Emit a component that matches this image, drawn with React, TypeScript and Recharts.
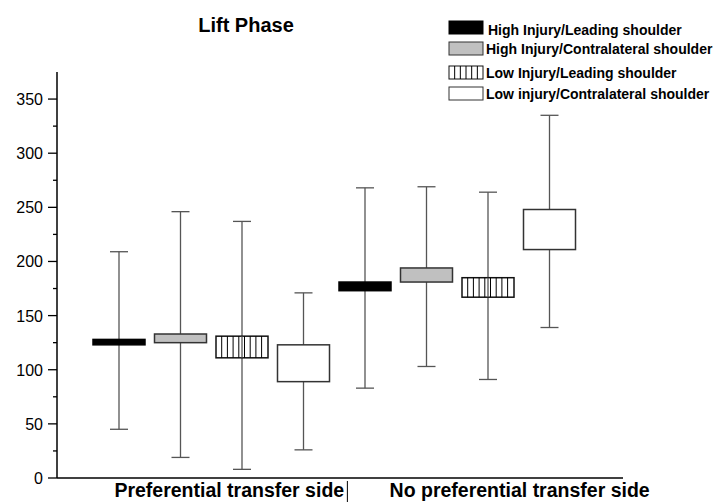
import React from "react";
import { ComposedChart, Bar, XAxis, YAxis } from "recharts";

const categories = ["HI-L-P", "HI-C-P", "LI-L-P", "LI-C-P", "HI-L-N", "HI-C-N", "LI-L-N", "LI-C-N"];
const whiskerLow = [45, 19, 8, 26, 83, 103, 91, 139];
const boxLow = [123, 125, 111, 89, 173, 181, 167, 211];
const boxHigh = [128, 133, 131, 123, 181, 194, 185, 248];
const whiskerHigh = [209, 246, 237, 171, 268, 269, 264, 335];

const seriesNames = [
  "High Injury/Leading shoulder",
  "High Injury/Contralateral shoulder",
  "Low Injury/Leading shoulder",
  "Low injury/Contralateral shoulder",
];
const groupLabels = ["Preferential transfer side", "No preferential transfer side"];
const groupLabelPos = [2.8, 7.52];
const groupSplitPos = 4.72;
const yTicks = [0, 25, 50, 75, 100, 125, 150, 175, 200, 225, 250, 275, 300, 325, 350];

const FONT = "'Liberation Sans', Arial, sans-serif";

const data = categories.map((name, i) => ({
  name,
  pos: i + 1,
  min: whiskerLow[i],
  q1: boxLow[i],
  q3: boxHigh[i],
  max: whiskerHigh[i],
}));

const styles = [
  { fill: "#000", stroke: "#000", hatch: false },
  { fill: "#c0c0c0", stroke: "#333", hatch: false },
  { fill: "#fff", stroke: "#111", hatch: true },
  { fill: "#fff", stroke: "#333", hatch: false },
];

function hatchLines(x: number, y: number, w: number, h: number, step: number, key: string) {
  const out = [];
  for (let k = 1; x + k * step < x + w - 1; k++) {
    out.push(<line key={key + k} x1={x + k * step} x2={x + k * step} y1={y} y2={y + h} stroke="#000" strokeWidth={1} />);
  }
  return out;
}

function BoxShape(props: any) {
  const { x, y, width, height, payload, index } = props;
  const d = payload;
  const px = (v: number) => y + ((d.max - v) / (d.max - d.min)) * height;
  const cx = x + width / 2;
  const s = styles[index % 4];
  const top = px(d.q3);
  const bot = px(d.q1);
  return (
    <g>
      <line x1={cx} x2={cx} y1={y} y2={y + height} stroke="#555" strokeWidth={1.3} />
      <line x1={cx - 9} x2={cx + 9} y1={y} y2={y} stroke="#555" strokeWidth={1.3} />
      <line x1={cx - 9} x2={cx + 9} y1={y + height} y2={y + height} stroke="#555" strokeWidth={1.3} />
      <rect x={x} y={top} width={width} height={bot - top} fill={s.fill} stroke={s.stroke} strokeWidth={1.5} />
      {s.hatch && hatchLines(x, top, width, bot - top, 5.7, "h")}
      {s.hatch && <line x1={cx} x2={cx} y1={top} y2={bot} stroke="#555" strokeWidth={1.3} />}
    </g>
  );
}

function YTick({ x, y, payload }: any) {
  const major = payload.value % 50 === 0;
  return (
    <g>
      <line x1={x - (major ? 9 : 4)} x2={x} y1={y} y2={y} stroke="#000" strokeWidth={1.3} />
      {major && (
        <text x={x - 14} y={y + 6} textAnchor="end" fontFamily={FONT} fontSize={16} fill="#000">
          {payload.value}
        </text>
      )}
    </g>
  );
}

function GroupTick({ x, payload }: any) {
  // baseline fixed just under the axis line (plot bottom at 478)
  const base = 478;
  if (Math.abs(payload.value - groupSplitPos) < 1e-6) {
    return <line x1={x} x2={x} y1={base + 3} y2={base + 24} stroke="#000" strokeWidth={1} />;
  }
  const idx = groupLabelPos.findIndex((p) => Math.abs(p - payload.value) < 1e-6);
  return (
    <text x={x} y={base + 19} textAnchor="middle" fontFamily={FONT} fontWeight="bold" fontSize={19.5} fill="#000">
      {groupLabels[idx]}
    </text>
  );
}

function LegendSwatch({ i }: { i: number }) {
  const s = styles[i];
  return (
    <svg width={36} height={15} style={{ display: "block" }}>
      <rect x={1} y={1} width={34} height={13} fill={s.fill} stroke={s.stroke} strokeWidth={1} />
      {s.hatch && hatchLines(1, 1, 34, 13, 5.67, "l")}
    </svg>
  );
}

export default function App() {
  return (
    <div style={{ position: "relative", width: 727, height: 502, background: "#fff" }}>
      <style>{"body{margin:0}"}</style>
      <ComposedChart width={727} height={502} data={data} margin={{ top: 72, right: 104, left: 0, bottom: 0 }}>
        <XAxis
          xAxisId="lbl"
          dataKey="pos"
          type="number"
          domain={[0, 9.2]}
          allowDataOverflow
          ticks={[groupLabelPos[0], groupSplitPos, groupLabelPos[1]]}
          tick={<GroupTick />}
          tickLine={false}
          tickSize={0}
          tickMargin={0}
          height={24}
          axisLine={{ stroke: "#000", strokeWidth: 1.5 }}
          interval={0}
        />
        <XAxis xAxisId="cat" dataKey="name" hide height={0} padding={{ left: 31, right: 43 }} />
        <YAxis
          domain={[0, 375]}
          ticks={yTicks}
          interval={0}
          width={57}
          tickLine={false}
          tickSize={0}
          tickMargin={0}
          tick={<YTick />}
          axisLine={{ stroke: "#000", strokeWidth: 1.5 }}
        />
        <Bar
          xAxisId="cat"
          dataKey={(d: any) => [d.min, d.max]}
          barSize={52}
          shape={<BoxShape />}
          isAnimationActive={false}
        />
      </ComposedChart>
      <svg width={727} height={110} style={{ position: "absolute", left: 0, top: 0, pointerEvents: "none" }}>
        <text x={246} y={32} textAnchor="middle" fontFamily={FONT} fontWeight="bold" fontSize={20} fill="#000">
          Lift Phase
        </text>
      </svg>
      {seriesNames.map((n, i) => (
        <div
          key={n}
          style={{
            position: "absolute",
            left: 448,
            top: [20, 41, 65, 86][i],
            display: "flex",
            alignItems: "center",
            fontFamily: FONT,
            fontWeight: "bold",
            fontSize: 14,
            lineHeight: "15px",
            whiteSpace: "nowrap",
          }}
        >
          <LegendSwatch i={i} />
          <span style={{ marginLeft: i === 0 ? 4 : 2, position: "relative", top: i === 0 ? 3 : 1 }}>{n}</span>
        </div>
      ))}
    </div>
  );
}
